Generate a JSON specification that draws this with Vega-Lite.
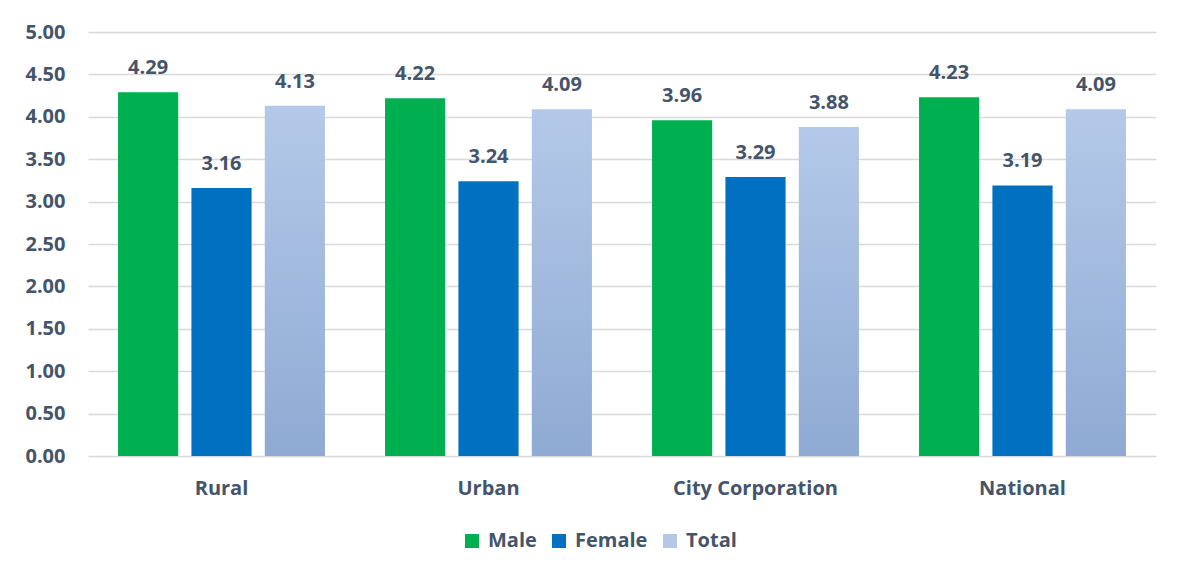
{
  "$schema": "https://vega.github.io/schema/vega-lite/v6.json",
  "width": 1068,
  "height": 424,
  "autosize": {"type": "none"},
  "padding": {"left": 88, "top": 32, "right": 26, "bottom": 125},
  "background": "white",
  "config": {
    "view": {"stroke": null},
    "font": "Open Sans",
    "axis": {"labelFont": "Open Sans", "labelFontWeight": "bold", "labelColor": "#44546A", "labelFontSize": 20},
    "legend": {"labelFont": "Open Sans", "labelFontWeight": "bold", "labelColor": "#44546A", "labelFontSize": 20}
  },
  "data": {
    "values": [
      {"area": "Rural", "g": "Male", "v": 4.29},
      {"area": "Rural", "g": "Female", "v": 3.16},
      {"area": "Rural", "g": "Total", "v": 4.13},
      {"area": "Urban", "g": "Male", "v": 4.22},
      {"area": "Urban", "g": "Female", "v": 3.24},
      {"area": "Urban", "g": "Total", "v": 4.09},
      {"area": "City Corporation", "g": "Male", "v": 3.96},
      {"area": "City Corporation", "g": "Female", "v": 3.29},
      {"area": "City Corporation", "g": "Total", "v": 3.88},
      {"area": "National", "g": "Male", "v": 4.23},
      {"area": "National", "g": "Female", "v": 3.19},
      {"area": "National", "g": "Total", "v": 4.09}
    ]
  },
  "encoding": {
    "x": {
      "field": "area", "type": "nominal",
      "sort": ["Rural", "Urban", "City Corporation", "National"],
      "scale": {"paddingInner": 0.225, "paddingOuter": 0.1125},
      "axis": {"title": null, "labelAngle": 0, "ticks": false, "domain": false, "labelPadding": 22, "grid": false}
    },
    "xOffset": {
      "field": "g", "type": "nominal",
      "sort": ["Male", "Female", "Total"],
      "scale": {"paddingInner": 0.18, "paddingOuter": 0}
    },
    "y": {
      "field": "v", "type": "quantitative",
      "scale": {"domain": [0, 5], "nice": false},
      "axis": {
        "title": null,
        "values": [0, 0.5, 1, 1.5, 2, 2.5, 3, 3.5, 4, 4.5, 5],
        "format": ".2f",
        "ticks": false,
        "domain": false,
        "labelPadding": 23,
        "gridColor": "#D9D9D9",
        "gridWidth": 1.3
      }
    }
  },
  "layer": [
    {
      "mark": {"type": "bar"},
      "encoding": {
        "color": {
          "condition": {
            "test": "datum.g === 'Total'",
            "value": {
              "gradient": "linear", "x1": 0, "y1": 0, "x2": 0, "y2": 1,
              "stops": [
                {"offset": 0, "color": "#B4C9E9"},
                {"offset": 1, "color": "#8FAAD3"}
              ]
            }
          },
          "field": "g", "type": "nominal",
          "sort": ["Male", "Female", "Total"],
          "scale": {"domain": ["Male", "Female", "Total"], "range": ["#00B050", "#0070C0", "#B4C7E7"]},
          "legend": {
            "title": null,
            "orient": "none",
            "direction": "horizontal",
            "legendX": 374,
            "legendY": 499,
            "symbolType": "square",
            "symbolSize": 196,
            "symbolStrokeWidth": 0,
            "labelOffset": 6,
            "columnPadding": 12
          }
        }
      }
    },
    {
      "mark": {"type": "text", "fontWeight": "bold", "fontSize": 20, "color": "#44546A", "baseline": "alphabetic", "dy": -18},
      "encoding": {
        "text": {"field": "v", "type": "quantitative", "format": ".2f"}
      }
    }
  ]
}
